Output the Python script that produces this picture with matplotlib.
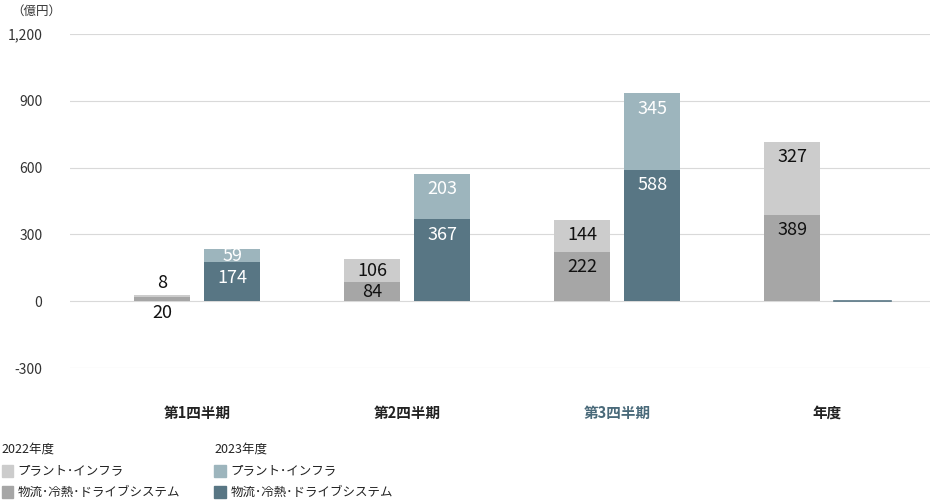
import matplotlib
matplotlib.use("Agg")
import matplotlib.pyplot as plt
from matplotlib.patches import Rectangle

plt.rcParams["font.family"] = "Noto Sans CJK JP"

categories = ["第1四半期", "第2四半期", "第3四半期", "年度"]
phys_2022 = [20, 84, 222, 389]
plant_2022 = [8, 106, 144, 327]
phys_2023 = [174, 367, 588, 0]
plant_2023 = [59, 203, 345, 0]
yticks = [-300, 0, 300, 600, 900, 1200]

c22p, c22m = "#cccccc", "#a6a6a6"
c23p, c23m = "#9db5bd", "#587684"

fig = plt.figure(figsize=(9.36, 5.0), dpi=100)
ax = fig.add_axes([0.075, 0.264, 0.919, 0.668])
ax.set_xlim(-0.605, 3.49)
ax.set_ylim(-300, 1200)
for s in ax.spines.values():
    s.set_visible(False)
ax.set_yticks(yticks)
ax.set_yticklabels([f"{v:,}" for v in yticks], fontsize=10, color="#333333")
ax.tick_params(axis="y", length=0, pad=20)
ax.grid(axis="y", color="#d9d9d9", lw=0.8)
ax.set_axisbelow(True)
ax.set_xticks([])

def ly(bottom, h):
    return max(bottom + h / 2, bottom + h - 68)

w = 0.267
off = 0.1667
fs = 13
for i in range(4):
    x1 = i - off
    ax.bar(x1, phys_2022[i], w, color=c22m)
    ax.bar(x1, plant_2022[i], w, bottom=phys_2022[i], color=c22p)
    if i == 0:
        ax.text(x1, -55, str(phys_2022[i]), ha="center", va="center", fontsize=fs, color="#111111")
        ax.text(x1, phys_2022[i] + plant_2022[i] + 55, str(plant_2022[i]), ha="center", va="center", fontsize=fs, color="#111111")
    else:
        ax.text(x1, ly(0, phys_2022[i]), str(phys_2022[i]), ha="center", va="center", fontsize=fs, color="#111111")
        ax.text(x1, ly(phys_2022[i], plant_2022[i]), str(plant_2022[i]), ha="center", va="center", fontsize=fs, color="#111111")
    x2 = i + off
    if phys_2023[i] > 0:
        ax.bar(x2, phys_2023[i], w, color=c23m)
        ax.bar(x2, plant_2023[i], w, bottom=phys_2023[i], color=c23p)
        ax.text(x2, ly(0, phys_2023[i]), str(phys_2023[i]), ha="center", va="center", fontsize=fs, color="white")
        ax.text(x2, ly(phys_2023[i], plant_2023[i]), str(plant_2023[i]), ha="center", va="center", fontsize=fs, color="white")
    else:
        ax.plot([x2 - w / 2, x2 + w / 2], [0, 0], color=c23m, lw=1.2)

for i, c in enumerate(categories):
    ax.text(i, -500, c, ha="center", va="center", fontsize=10.5, fontweight="bold",
            color="#4a6a7a" if i == 2 else "#222222")

fig.text(0.012, 0.978, "（億円）", fontsize=9, color="#333333", va="center")

def leg(x, y, color, label):
    fig.patches.append(Rectangle((x, y - 0.012), 0.012, 0.024, transform=fig.transFigure, color=color))
    fig.text(x + 0.017, y, label, fontsize=9, va="center", color="#222222")

fig.text(0.002, 0.102, "2022年度", fontsize=9, va="center", color="#222222")
leg(0.002, 0.058, c22p, "プラント･インフラ")
leg(0.002, 0.016, c22m, "物流･冷熱･ドライブシステム")
fig.text(0.229, 0.102, "2023年度", fontsize=9, va="center", color="#222222")
leg(0.229, 0.058, c23p, "プラント･インフラ")
leg(0.229, 0.016, c23m, "物流･冷熱･ドライブシステム")

fig.savefig("out.png", dpi=100)
